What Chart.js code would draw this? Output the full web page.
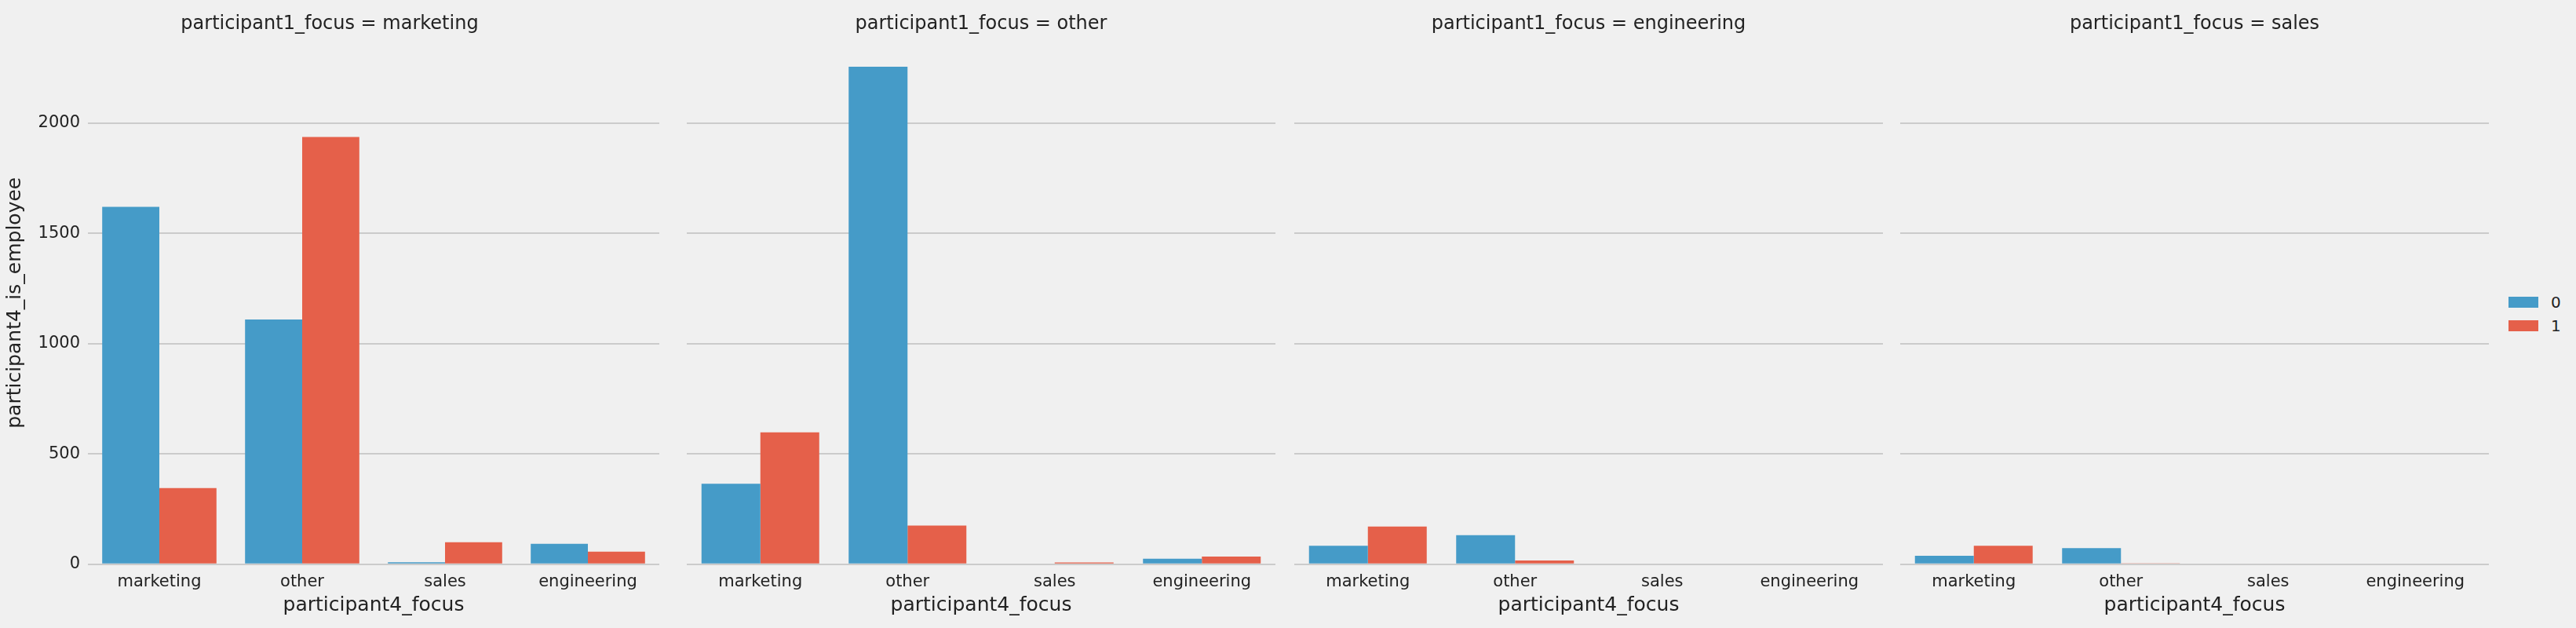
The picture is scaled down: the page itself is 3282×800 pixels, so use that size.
<!DOCTYPE html>
<html>
<head>
<meta charset="UTF-8">
<script src="https://cdn.jsdelivr.net/npm/chart.js"></script>
<style>
  body { margin: 0; background: #f0f0f0; width: 3282px; height: 800px; overflow: hidden; font-family: "DejaVu Sans", sans-serif; }
  .panel { position: absolute; top: 0; height: 800px; }
  #legend { position: absolute; left: 3196px; top: 370px; font-size: 20px; color: #222; }
  #legend div { display: flex; align-items: center; height: 30px; }
  #legend span.sw { display: inline-block; width: 38px; height: 14px; margin-right: 16px; }
</style>
</head>
<body>
<div class="panel" style="left:0;width:850px"><canvas id="c0"></canvas></div>
<div class="panel" style="left:865px;width:770px"><canvas id="c1"></canvas></div>
<div class="panel" style="left:1639px;width:770px"><canvas id="c2"></canvas></div>
<div class="panel" style="left:2411px;width:770px"><canvas id="c3"></canvas></div>
<div id="legend">
  <div><span class="sw" style="background:#459bc8"></span>0</div>
  <div><span class="sw" style="background:#e5604a"></span>1</div>
</div>
<script>
  const categories = ['marketing', 'other', 'sales', 'engineering'];
  const facets = ['marketing', 'other', 'engineering', 'sales'];
  // counts per facet: [is_employee = 0, is_employee = 1]
  const zeroSeries = [
    [1620, 1110, 9, 93],
    [365, 2255, 0, 25],
    [84, 132, 0, 0],
    [38, 73, 0, 0]
  ];
  const oneSeries = [
    [345, 1937, 100, 57],
    [598, 175, 8, 35],
    [171, 17, 0, 0],
    [84, 3, 0, 0]
  ];
  const yTicks = [0, 500, 1000, 1500, 2000];

  facets.forEach((f, i) => {
    const first = i === 0;
    new Chart(document.getElementById('c' + i), {
      type: 'bar',
      data: {
        labels: categories,
        datasets: [
          { label: '0', data: zeroSeries[i], backgroundColor: '#459bc8' },
          { label: '1', data: oneSeries[i], backgroundColor: '#e5604a' }
        ]
      },
      options: {
        responsive: true,
        maintainAspectRatio: false,
        animation: false,
        categoryPercentage: 0.8,
        barPercentage: 1,
        layout: { padding: { left: first ? 0 : 10, right: 10, top: 0, bottom: 14 } },
        plugins: {
          legend: { display: false },
          tooltip: { enabled: false },
          title: {
            display: true, text: 'participant1_focus = ' + f, color: '#222',
            font: { family: 'DejaVu Sans', size: 24, weight: 'normal' },
            padding: { top: 16, bottom: 8 }
          }
        },
        scales: {
          x: {
            grid: { display: false },
            border: { display: false },
            ticks: { color: '#222', font: { family: 'DejaVu Sans', size: 21 }, padding: 2 },
            title: { display: true, text: 'participant4_focus', color: '#222', font: { family: 'DejaVu Sans', size: 25 }, padding: 0 }
          },
          y: {
            min: 0, max: 2370,
            afterBuildTicks: s => { s.ticks = yTicks.map(v => ({ value: v })); },
            afterFit: s => { s.width = first ? 112 : 0; },
            grid: { color: '#cbcbcb', lineWidth: 2, drawTicks: false },
            border: { display: false },
            ticks: { display: first, color: '#222', font: { family: 'DejaVu Sans', size: 21 }, padding: 10,
                     callback: v => String(v) },
            title: { display: first, text: 'participant4_is_employee', color: '#222', font: { family: 'DejaVu Sans', size: 25 }, padding: 4 }
          }
        }
      }
    });
  });
</script>
</body>
</html>
